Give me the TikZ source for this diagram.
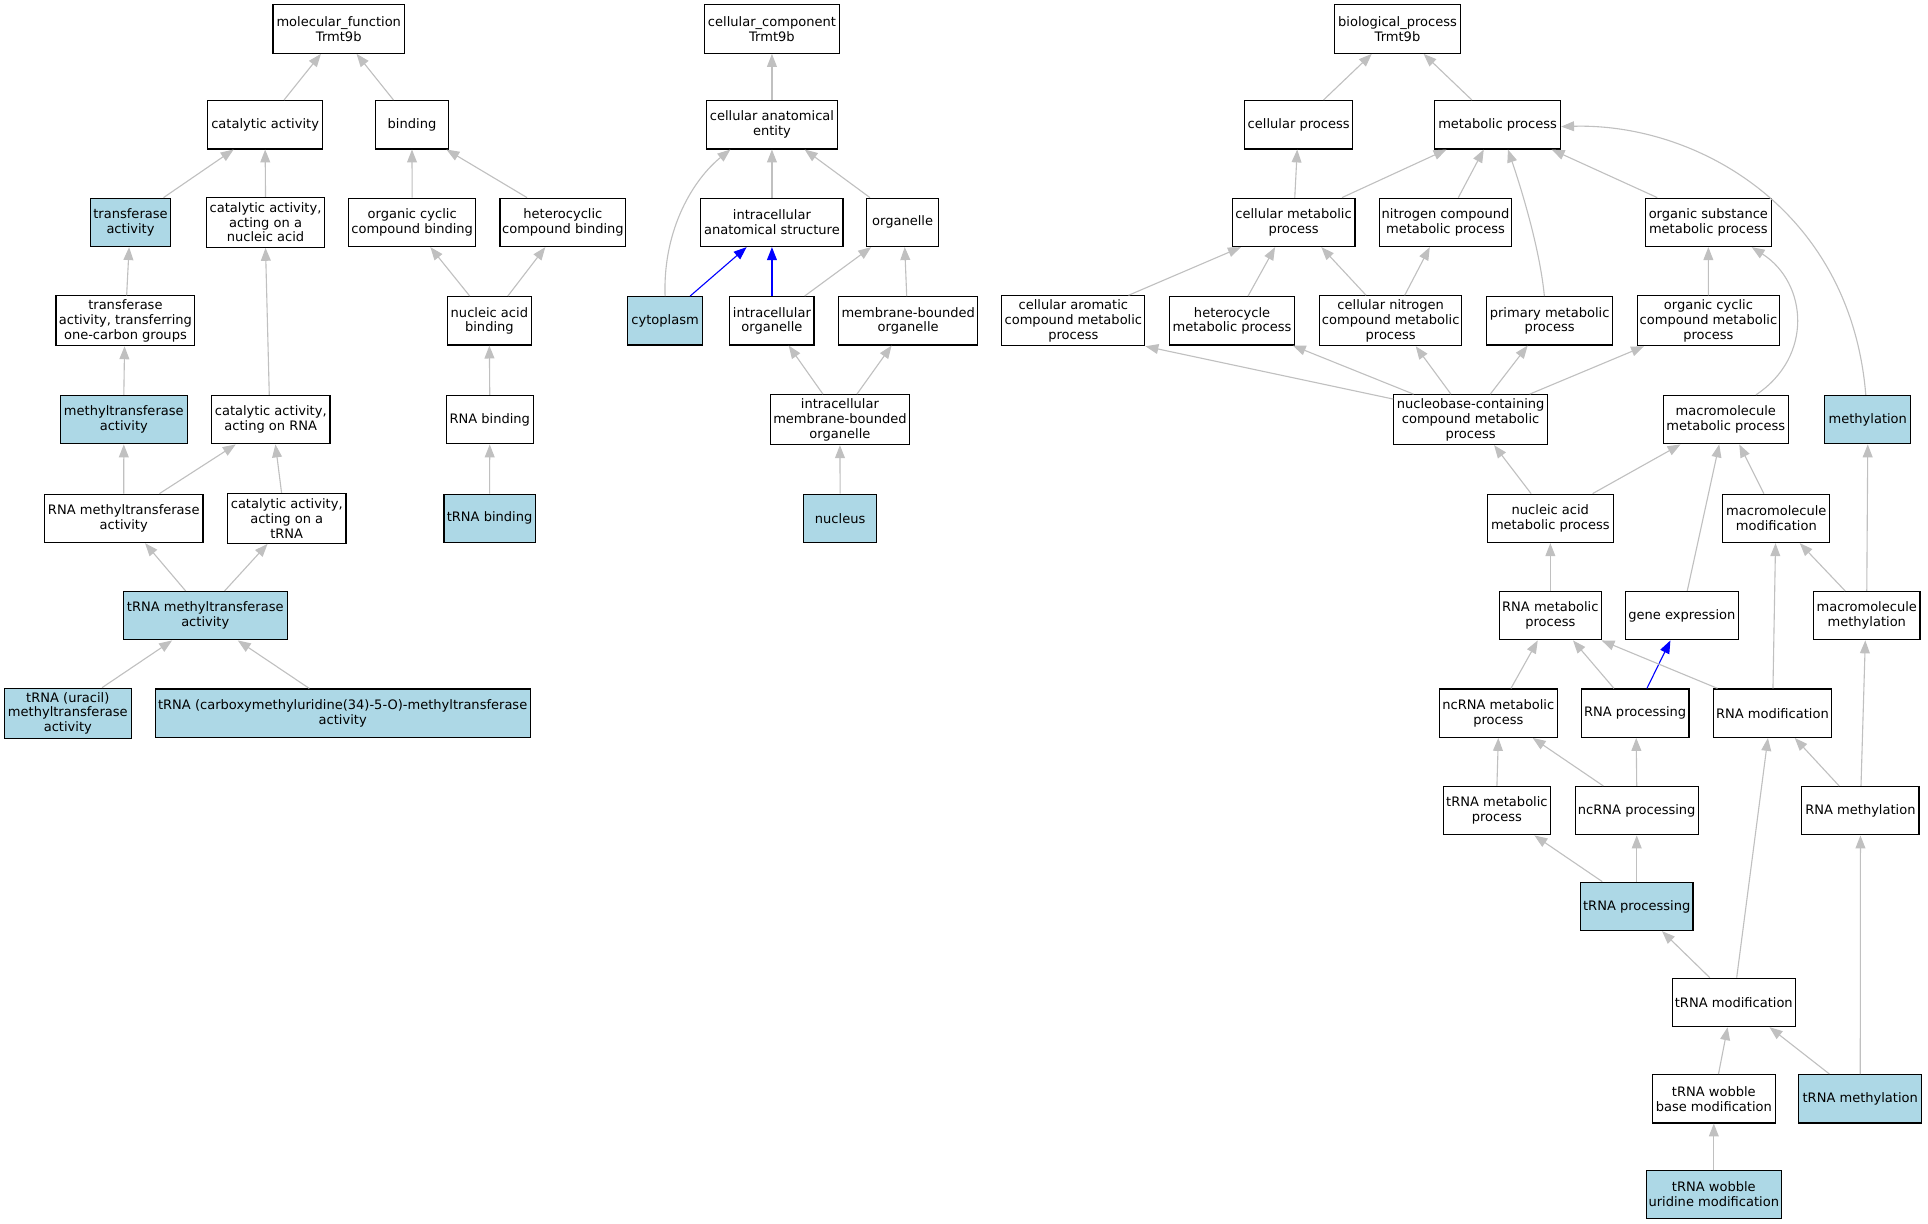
\documentclass[tikz,border=0pt]{standalone}
\usepackage{fontspec}
\setmainfont{DejaVu Sans}
\usetikzlibrary{arrows.meta}
\definecolor{edgegray}{HTML}{C0C0C0}
\definecolor{hlblue}{HTML}{ADD8E6}
\newcommand\gedge[5][]{\draw[edge,#1] ([xshift=#3pt]#2.north) -- ([xshift=#5pt]#4.south);}
\begin{document}
\begin{tikzpicture}[x=1pt,y=-1pt,
 box/.style={draw=black, line width=0.9pt, fill=white, align=center, inner sep=0pt, font=\fontsize{10.6}{12}\selectfont},
 hl/.style={box, fill=hlblue},
 sz/.style 2 args={minimum width=#1pt, minimum height=#2pt},
 edge/.style={edgegray, line width=0.9pt, -{Triangle[length=10.5pt,width=8pt]}},
 bedge/.style={blue}]
\fill[white] (0,0) rectangle (1568,995.45);
\useasboundingbox (0,0) rectangle (1568,995.45);
% molecular function
\node[box, sz={107}{39.4}] (mf) at (275.5,23.7) {molecular\_function\\Trmt9b};
\node[box, sz={93.7}{39.4}] (catact) at (215.65,101.45) {catalytic activity};
\node[box, sz={58.9}{39.4}] (binding) at (335.05,101.45) {binding};
\node[hl, sz={65.5}{39.4}] (transf) at (106.15,180.85) {transferase\\activity};
\node[box, sz={96.3}{40.6}] (canuc) at (215.95,180.85) {catalytic activity,\\acting on a\\nucleic acid};
\node[box, sz={103}{39.4}] (ocb) at (335.2,180.85) {organic cyclic\\compound binding};
\node[box, sz={102.4}{39.4}] (hcb) at (457.8,180.85) {heterocyclic\\compound binding};
\node[box, sz={113}{40.6}] (tatc) at (102,260.9) {transferase\\activity, transferring\\one-carbon groups};
\node[box, sz={67.8}{39.4}] (nab) at (398,260.9) {nucleic acid\\binding};
\node[hl, sz={103}{39.4}] (mta) at (100.7,341.3) {methyltransferase\\activity};
\node[box, sz={96.4}{39.4}] (carna) at (220.2,341.3) {catalytic activity,\\acting on RNA};
\node[box, sz={70.6}{39.4}] (rnab) at (398.3,341.3) {RNA binding};
\node[box, sz={128.9}{39.4}] (rnamta) at (100.65,421.6) {RNA methyltransferase\\activity};
\node[box, sz={96.4}{40.6}] (catrna) at (233.2,421.6) {catalytic activity,\\acting on a\\tRNA};
\node[hl, sz={74.1}{39.4}] (trnab) at (398.15,421.6) {tRNA binding};
\node[hl, sz={133.3}{39.4}] (tmta) at (166.95,500.7) {tRNA methyltransferase\\activity};
\node[hl, sz={102.9}{40.6}] (turacil) at (55.15,580) {tRNA (uracil)\\methyltransferase\\activity};
\node[hl, sz={305}{39.4}] (tcarb) at (278.7,580) {tRNA (carboxymethyluridine(34)-5-O)-methyltransferase\\activity};
% cellular component
\node[box, sz={109.6}{39.4}] (cc) at (627.8,23.7) {cellular\_component\\Trmt9b};
\node[box, sz={107}{39.4}] (cae) at (627.8,101.45) {cellular anatomical\\entity};
\node[box, sz={115.6}{39.4}] (ias) at (627.8,180.85) {intracellular\\anatomical structure};
\node[box, sz={58.4}{39.4}] (organelle) at (734.1,180.85) {organelle};
\node[hl, sz={61.4}{39.4}] (cytoplasm) at (540.9,260.9) {cytoplasm};
\node[box, sz={68.4}{39.4}] (io) at (627.8,260.9) {intracellular\\organelle};
\node[box, sz={113.2}{39.4}] (mbo) at (738.6,260.9) {membrane-bounded\\organelle};
\node[box, sz={113.2}{40.6}] (imbo) at (683.1,341.3) {intracellular\\membrane-bounded\\organelle};
\node[hl, sz={59.1}{39.4}] (nucleus) at (683.25,421.6) {nucleus};
% biological process
\node[box, sz={102.5}{39.4}] (bp) at (1136.55,23.7) {biological\_process\\Trmt9b};
\node[box, sz={88.3}{39.4}] (cp) at (1056.15,101.45) {cellular process};
\node[box, sz={102.5}{39.4}] (mp) at (1217.95,101.45) {metabolic process};
\node[box, sz={100}{39.4}] (cmp) at (1052,180.85) {cellular metabolic\\process};
\node[box, sz={107.2}{39.4}] (ncmp) at (1175.6,180.85) {nitrogen compound\\metabolic process};
\node[box, sz={102.5}{39.4}] (osmp) at (1389.35,180.85) {organic substance\\metabolic process};
\node[box, sz={116.3}{40.6}] (camp) at (872.95,260.9) {cellular aromatic\\compound metabolic\\process};
\node[box, sz={102}{39.4}] (hmp) at (1002,260.9) {heterocycle\\metabolic process};
\node[box, sz={115.8}{40.6}] (cnmp) at (1131,260.9) {cellular nitrogen\\compound metabolic\\process};
\node[box, sz={102.8}{39.4}] (pmp) at (1260.3,260.9) {primary metabolic\\process};
\node[box, sz={115.4}{40.6}] (occmp) at (1389.4,260.9) {organic cyclic\\compound metabolic\\process};
\node[box, sz={125}{40.6}] (nbcmp) at (1196,341.3) {nucleobase-containing\\compound metabolic\\process};
\node[box, sz={101.9}{39.4}] (mmp) at (1403.55,341.3) {macromolecule\\metabolic process};
\node[hl, sz={70}{39.4}] (meth) at (1519,341.3) {methylation};
\node[box, sz={102.5}{39.4}] (namp) at (1260.85,421.6) {nucleic acid\\metabolic process};
\node[box, sz={86.9}{39.4}] (mmod) at (1444.65,421.6) {macromolecule\\modification};
\node[box, sz={83.3}{39.4}] (rnamp) at (1260.85,500.7) {RNA metabolic\\process};
\node[box, sz={91.8}{39.4}] (ge) at (1367.8,500.7) {gene expression};
\node[box, sz={86.6}{39.4}] (mmeth) at (1518.2,500.7) {macromolecule\\methylation};
\node[box, sz={95.9}{39.4}] (ncrnamp) at (1218.55,580) {ncRNA metabolic\\process};
\node[box, sz={87.5}{39.4}] (rnaproc) at (1329.85,580) {RNA processing};
\node[box, sz={95.9}{39.4}] (rnamod) at (1441.45,580) {RNA modification};
\node[box, sz={87.2}{39.4}] (trnamp) at (1217.4,659.3) {tRNA metabolic\\process};
\node[box, sz={99.8}{39.4}] (ncrnaproc) at (1331.1,659.3) {ncRNA processing};
\node[box, sz={95.3}{39.4}] (rnameth) at (1513.05,659.3) {RNA methylation};
\node[hl, sz={91.6}{39.4}] (trnaproc) at (1331.1,737.15) {tRNA processing};
\node[box, sz={100.3}{39.4}] (trnamod) at (1410.05,815.25) {tRNA modification};
\node[box, sz={100}{39.4}] (twbm) at (1393.8,893.6) {tRNA wobble\\base modification};
\node[hl, sz={100}{39.4}] (trnameth) at (1512.9,893.6) {tRNA methylation};
\node[hl, sz={109.8}{39.4}] (twum) at (1393.8,971.35) {tRNA wobble\\uridine modification};
% edges: molecular function
\gedge{catact}{15.35}{mf}{-14.5}
\gedge{binding}{-15.05}{mf}{14.5}
\gedge{transf}{26.85}{catact}{-25.65}
\gedge{canuc}{0}{catact}{0}
\gedge{ocb}{0}{binding}{0}
\gedge{hcb}{-29.2}{binding}{28}
\gedge{tatc}{1}{transf}{-1.15}
\gedge{nab}{-16}{ocb}{14.8}
\gedge{nab}{15}{hcb}{-14.3}
\gedge{mta}{0}{tatc}{-0.7}
\gedge{carna}{-1.2}{canuc}{0}
\gedge{rnab}{0}{nab}{0}
\gedge{rnamta}{0}{mta}{0}
\gedge{rnamta}{29}{carna}{-28.5}
\gedge{catrna}{-4.2}{carna}{3.8}
\gedge{trnab}{0}{rnab}{0}
\gedge{tmta}{-16}{rnamta}{17.35}
\gedge{tmta}{15.75}{catrna}{-15.6}
\gedge{turacil}{27.85}{tmta}{-26.95}
\gedge{tcarb}{-27.2}{tmta}{26.45}
% edges: cellular component
\gedge{cae}{0}{cc}{0}
\gedge{ias}{0}{cae}{0}
\gedge{organelle}{-26.6}{cae}{26.6}
\draw[edge] (cytoplasm.north) .. controls (539,185) and (565,145) .. ([xshift=-33.8pt]cae.south);
\gedge[bedge]{cytoplasm}{20.4}{ias}{-20.6}
\gedge[bedge]{io}{0}{ias}{0}
\gedge{io}{26.6}{organelle}{-25.6}
\gedge{mbo}{-1.2}{organelle}{1.7}
\gedge{imbo}{-13.8}{io}{13.6}
\gedge{imbo}{13.8}{mbo}{-13.5}
\gedge{nucleus}{0}{imbo}{0}
% edges: biological process
\gedge{cp}{20.25}{bp}{-20.95}
\gedge{mp}{-20.95}{bp}{21.25}
\gedge{cmp}{1}{cp}{-1.15}
\gedge{cmp}{39.4}{mp}{-41.55}
\gedge{ncmp}{10.4}{mp}{-11.25}
\draw[edge] ([xshift=-4.3pt]pmp.north) .. controls (1252,200) and (1236,150) .. ([xshift=8.45pt]mp.south);
\gedge{osmp}{-41.55}{mp}{44}
\draw[edge] ([xshift=-1.6pt]meth.north) .. controls (1505,170) and (1380,100) .. ([yshift=-1.5pt]mp.east);
\gedge{camp}{44.85}{cmp}{-42.8}
\gedge{hmp}{13}{cmp}{-15}
\gedge{cnmp}{-20}{cmp}{22.6}
\gedge{cnmp}{11.4}{ncmp}{-12.8}
\gedge{occmp}{0}{osmp}{0}
\draw[edge] ([xshift=24.45pt]mmp.north) .. controls (1475,290) and (1470,230) .. ([xshift=35.25pt]osmp.south);
\draw[edge] ([yshift=-4pt]nbcmp.north west) -- (camp.south east);
\gedge{nbcmp}{-46.4}{hmp}{49.4}
\gedge{nbcmp}{-16}{cnmp}{20.4}
\gedge{nbcmp}{16}{pmp}{-17.9}
\gedge{nbcmp}{48}{occmp}{-52.4}
\gedge{namp}{-15.65}{nbcmp}{19.1}
\gedge{namp}{34.35}{mmp}{-36.85}
\gedge{ge}{4.4}{mmp}{-5.35}
\gedge{mmod}{-10.15}{mmp}{10.95}
\gedge{mmeth}{0}{meth}{0}
\gedge{mmeth}{-17.6}{mmod}{19.05}
\gedge{rnamp}{0}{namp}{0}
\gedge{ncrnamp}{10.25}{rnamp}{-10.25}
\gedge{rnaproc}{-17.25}{rnamp}{18.45}
\gedge[bedge]{rnaproc}{9.55}{ge}{-9.3}
\gedge{rnamod}{-44.65}{rnamp}{41.65}
\gedge{rnamod}{0.45}{mmod}{-0.65}
\gedge{rnameth}{-17.35}{rnamod}{18.15}
\gedge{rnameth}{0.45}{mmeth}{-1.2}
\gedge{trnamp}{0}{ncrnamp}{0}
\gedge{ncrnaproc}{-27.2}{ncrnamp}{27.95}
\gedge{ncrnaproc}{0}{rnaproc}{0.85}
\gedge{trnaproc}{-28}{trnamp}{30.5}
\gedge{trnaproc}{0}{ncrnaproc}{0}
\gedge{trnamod}{-19.55}{trnaproc}{20.6}
\gedge{trnamod}{2.35}{rnamod}{-3.65}
\gedge{twbm}{3.8}{trnamod}{-5.05}
\gedge{trnameth}{-25.1}{trnamod}{29.05}
\gedge{trnameth}{0}{rnameth}{0}
\gedge{twum}{0}{twbm}{0}
\end{tikzpicture}
\end{document}
